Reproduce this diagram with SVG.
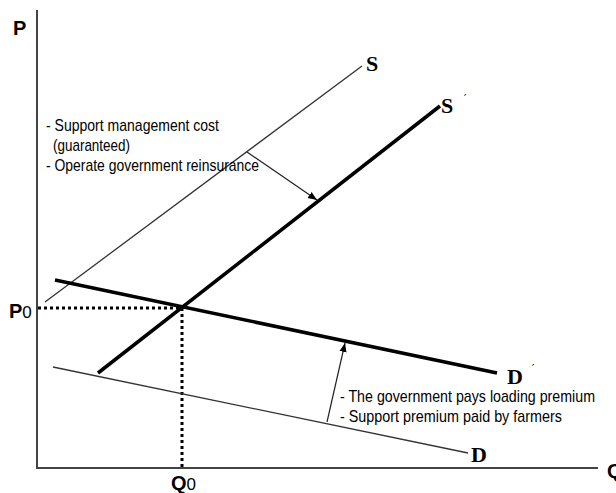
<svg xmlns="http://www.w3.org/2000/svg" width="616" height="493" viewBox="0 0 616 493">
<style>
.axis{stroke:#444;stroke-width:2;fill:none}
.thin{stroke:#333;stroke-width:1.3;fill:none}
.thick{stroke:#000;stroke-width:3.5;fill:none;stroke-linecap:butt}
.dot{stroke:#000;stroke-width:3;stroke-dasharray:3 3;fill:none}
.arr{stroke:#222;stroke-width:1.2;fill:none}
.lbl{font-family:"Liberation Sans",Arial,sans-serif;font-weight:bold;font-size:20px;fill:#000}
.slbl{font-family:"Liberation Serif","Times New Roman",serif;font-weight:bold;font-size:22px;fill:#000}
.txt{font-family:"Liberation Sans",Arial,sans-serif;font-size:17px;fill:#000}
.pr{font-family:"Liberation Sans",Arial,sans-serif;font-size:12px;fill:#333}
</style>
<defs>
<marker id="ah" viewBox="0 0 10 10" refX="10" refY="5" markerWidth="9" markerHeight="9" markerUnits="userSpaceOnUse" orient="auto">
<path d="M0,1 L10,5 L0,9 z" fill="#000"/>
</marker>
</defs>
<g id="axes">
<line class="axis" x1="37" y1="10" x2="37" y2="469"/>
<line class="axis" x1="36" y1="468" x2="598" y2="468"/>
<text class="lbl" x="13" y="35">P</text>
<text class="lbl" x="607" y="478">Q</text>
</g>
<g id="connectors">
<line class="dot" x1="38" y1="308" x2="182" y2="308"/>
<line class="dot" x1="182" y1="308" x2="182" y2="467"/>
<line class="arr" x1="247" y1="152" x2="317" y2="200" marker-end="url(#ah)"/>
<line class="arr" x1="327" y1="422" x2="345" y2="343" marker-end="url(#ah)"/>
</g>
<g id="S">
<line class="thin" x1="45" y1="302" x2="362" y2="66"/>
<text class="slbl" x="366" y="71">S</text>
</g>
<g id="S-prime">
<line class="thick" x1="98" y1="373" x2="440" y2="106"/>
<text class="slbl" x="441" y="113">S</text>
<text class="pr" x="463" y="104">ˊ</text>
</g>
<g id="D-prime">
<line class="thick" x1="55" y1="280" x2="497" y2="373"/>
<text class="slbl" x="507" y="384">D</text>
<text class="pr" x="531" y="374">ˊ</text>
</g>
<g id="D">
<line class="thin" x1="53" y1="367" x2="468" y2="453"/>
<text class="slbl" x="471" y="462">D</text>
</g>
<g id="P0">
<text class="lbl" x="9" y="318">P<tspan font-weight="normal" font-size="17">0</tspan></text>
</g>
<g id="Q0">
<text class="lbl" x="171" y="490">Q<tspan font-weight="normal" font-size="17">0</tspan></text>
</g>
<g id="note-supply">
<text class="txt" x="46" y="131" textLength="173" lengthAdjust="spacingAndGlyphs">- Support management cost</text>
<text class="txt" x="53" y="151" textLength="77" lengthAdjust="spacingAndGlyphs">(guaranteed)</text>
<text class="txt" x="46" y="171" textLength="213" lengthAdjust="spacingAndGlyphs">- Operate government reinsurance</text>
</g>
<g id="note-demand">
<text class="txt" x="340" y="402" textLength="255" lengthAdjust="spacingAndGlyphs">- The government pays loading premium</text>
<text class="txt" x="340" y="422" textLength="222" lengthAdjust="spacingAndGlyphs">- Support premium paid by farmers</text>
</g>
</svg>
